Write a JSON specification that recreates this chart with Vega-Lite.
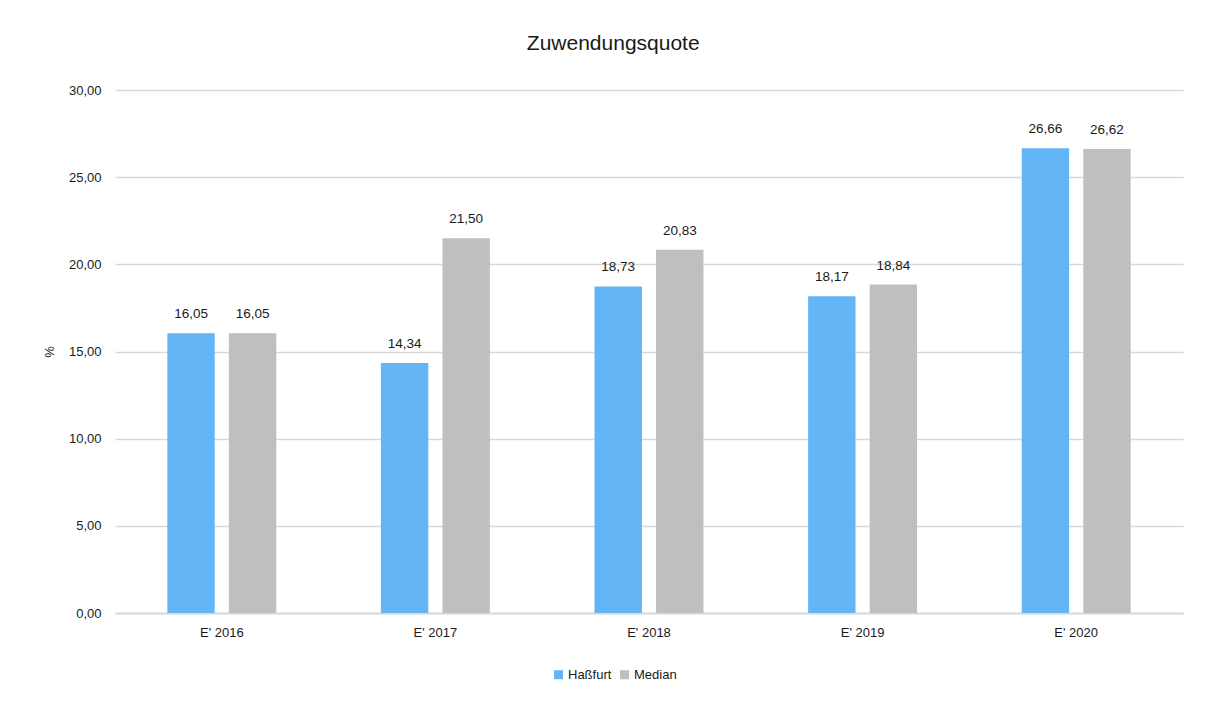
{
  "$schema": "https://vega.github.io/schema/vega-lite/v6.json",
  "width": 1068,
  "height": 523,
  "autosize": {"type": "pad"},
  "padding": {"left": 43, "top": 33, "right": 23, "bottom": 10},
  "title": {
    "text": "Zuwendungsquote",
    "fontSize": 21,
    "fontWeight": "normal",
    "font": "Liberation Sans",
    "color": "#1a1a1a",
    "anchor": "middle",
    "frame": "bounds",
    "baseline": "alphabetic",
    "offset": 13
  },
  "data": {
    "values": [
      {"jahr": "E' 2016", "reihe": "Haßfurt", "wert": 16.05},
      {"jahr": "E' 2016", "reihe": "Median", "wert": 16.05},
      {"jahr": "E' 2017", "reihe": "Haßfurt", "wert": 14.34},
      {"jahr": "E' 2017", "reihe": "Median", "wert": 21.50},
      {"jahr": "E' 2018", "reihe": "Haßfurt", "wert": 18.73},
      {"jahr": "E' 2018", "reihe": "Median", "wert": 20.83},
      {"jahr": "E' 2019", "reihe": "Haßfurt", "wert": 18.17},
      {"jahr": "E' 2019", "reihe": "Median", "wert": 18.84},
      {"jahr": "E' 2020", "reihe": "Haßfurt", "wert": 26.66},
      {"jahr": "E' 2020", "reihe": "Median", "wert": 26.62}
    ]
  },
  "encoding": {
    "x": {
      "field": "jahr",
      "type": "nominal",
      "sort": null,
      "scale": {"paddingInner": 0.49, "paddingOuter": 0.245},
      "axis": {
        "title": null,
        "labelAngle": 0,
        "ticks": false,
        "labelPadding": 13,
        "labelFontSize": 13,
        "domainColor": "#d9d9d9",
        "domainWidth": 2,
        "grid": false
      }
    },
    "xOffset": {
      "field": "reihe",
      "type": "nominal",
      "sort": ["Haßfurt", "Median"],
      "scale": {"paddingInner": 0.23, "paddingOuter": 0}
    },
    "y": {
      "field": "wert",
      "type": "quantitative",
      "scale": {"domain": [0, 30], "nice": false},
      "axis": {
        "title": "%",
        "titleFontSize": 13,
        "titleFontWeight": "normal",
        "titlePadding": 12,
        "values": [0, 5, 10, 15, 20, 25, 30],
        "format": ".2f",
        "labelFontSize": 13,
        "labelPadding": 14,
        "ticks": false,
        "domain": false,
        "gridColor": "#d9d9d9",
        "gridWidth": 1.5
      }
    }
  },
  "layer": [
    {
      "mark": {"type": "bar"},
      "encoding": {
        "color": {
          "field": "reihe",
          "type": "nominal",
          "scale": {"domain": ["Haßfurt", "Median"], "range": ["#63b5f6", "#bfbfbf"]},
          "legend": {
            "title": null,
            "orient": "none",
            "legendX": 437,
            "legendY": 578,
            "direction": "horizontal",
            "symbolType": "square",
            "symbolSize": 81,
            "symbolStrokeWidth": 0,
            "labelFontSize": 13,
            "labelOffset": 3,
            "columnPadding": 6
          }
        }
      }
    },
    {
      "mark": {"type": "text", "baseline": "alphabetic", "dy": -15, "fontSize": 13.5, "color": "#1a1a1a"},
      "encoding": {
        "text": {"field": "wert", "type": "quantitative", "format": ".2f"}
      }
    }
  ],
  "config": {
    "locale": {
      "number": {"decimal": ",", "thousands": ".", "grouping": [3], "currency": ["", " €"]}
    },
    "font": "Liberation Sans",
    "view": {"stroke": null},
    "axis": {"labelColor": "#1a1a1a", "titleColor": "#1a1a1a", "labelFont": "Liberation Sans", "titleFont": "Liberation Sans"},
    "legend": {
      "labelColor": "#1a1a1a",
      "labelFont": "Liberation Sans"
    }
  }
}
